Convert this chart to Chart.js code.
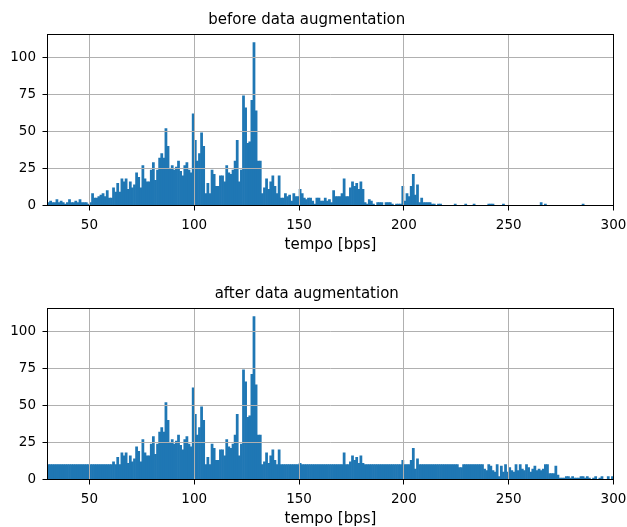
<!DOCTYPE html>
<html>
<head>
<meta charset="utf-8">
<script src="https://cdn.jsdelivr.net/npm/chart.js@4.4.1/dist/chart.umd.min.js"></script>
<style>
  html, body { margin: 0; padding: 0; background: #fff; overflow: hidden; }
  canvas { display: block; }
</style>
</head>
<body>
<canvas id="chartBefore" width="627" height="274"></canvas>
<canvas id="chartAfter" width="627" height="274"></canvas>
<script>
// Bins de 1 bps, el primero empieza en 30
const binStart = 30;

// Cuentas por bin antes de la augmentacion (30..299)
const beforeCounts = [
  2, 3, 2, 2, 4, 2, 3, 2, 1, 2,
  4, 2, 2, 3, 2, 4, 2, 2, 2, 1,
  2, 8, 5, 5, 6, 7, 8, 6, 10, 5,
  5, 12, 9, 15, 9, 18, 16, 18, 11, 16,
  12, 14, 22, 19, 12, 27, 18, 16, 16, 24,
  29, 17, 24, 32, 35, 32, 52, 40, 25, 27,
  24, 26, 30, 23, 20, 27, 29, 24, 22, 62,
  44, 30, 35, 49, 40, 8, 15, 8, 24, 21,
  13, 13, 20, 20, 16, 27, 22, 21, 24, 30,
  44, 16, 24, 74, 66, 42, 43, 71, 110, 64,
  30, 30, 8, 12, 18, 11, 16, 20, 13, 8,
  20, 5, 5, 8, 6, 7, 3, 8, 6, 6,
  11, 8, 5, 4, 5, 5, 3, 1, 5, 5,
  3, 3, 5, 3, 4, 2, 10, 6, 6, 6,
  8, 18, 6, 6, 12, 16, 13, 15, 11, 16,
  11, 2, 1, 4, 3, 1, 0, 2, 2, 2,
  0, 2, 2, 2, 1, 0, 1, 1, 1, 13,
  3, 8, 6, 13, 21, 7, 14, 2, 5, 2,
  2, 2, 2, 1, 1, 0, 1, 1, 0, 0,
  0, 0, 0, 0, 1, 0, 0, 0, 0, 1,
  0, 0, 0, 1, 0, 0, 0, 0, 0, 0,
  1, 1, 1, 0, 0, 0, 0, 1, 0, 0,
  0, 0, 0, 0, 0, 0, 0, 0, 0, 0,
  0, 0, 0, 0, 0, 2, 0, 1, 0, 0,
  0, 0, 0, 0, 0, 0, 0, 0, 0, 0,
  0, 0, 0, 0, 0, 1, 0, 0, 0, 0,
  0, 0, 0, 0, 0, 0, 0, 0, 0, 0
];

// Cuentas por bin despues de la augmentacion (30..299)
const afterCounts = [
  10, 10, 10, 10, 10, 10, 10, 10, 10, 10,
  10, 10, 10, 10, 10, 10, 10, 10, 10, 10,
  10, 10, 10, 10, 10, 10, 10, 10, 10, 10,
  10, 12, 10, 15, 10, 18, 16, 18, 11, 16,
  12, 14, 22, 19, 12, 27, 18, 16, 16, 24,
  29, 17, 24, 32, 35, 32, 52, 40, 25, 27,
  24, 26, 30, 23, 20, 27, 29, 24, 22, 62,
  44, 30, 35, 49, 40, 10, 15, 10, 24, 21,
  13, 13, 20, 20, 16, 27, 22, 21, 24, 30,
  44, 16, 24, 74, 66, 42, 43, 71, 110, 64,
  30, 30, 10, 12, 18, 11, 16, 20, 13, 10,
  20, 10, 10, 10, 10, 10, 10, 10, 10, 10,
  11, 10, 10, 10, 10, 10, 10, 10, 10, 10,
  10, 10, 10, 10, 10, 10, 10, 10, 10, 10,
  10, 18, 10, 10, 12, 16, 13, 15, 11, 16,
  11, 10, 10, 10, 10, 10, 10, 10, 10, 10,
  10, 10, 10, 10, 10, 10, 10, 10, 10, 13,
  10, 10, 10, 13, 21, 7, 14, 10, 10, 10,
  10, 10, 10, 10, 10, 10, 10, 10, 10, 10,
  10, 10, 10, 10, 10, 10, 8, 8, 10, 10,
  10, 10, 10, 10, 10, 10, 10, 10, 7, 6,
  10, 9, 6, 5, 10, 2, 9, 5, 10, 5,
  8, 6, 5, 10, 6, 10, 7, 6, 10, 8,
  5, 7, 9, 6, 7, 6, 7, 10, 10, 4,
  4, 4, 9, 3, 1, 1, 1, 2, 2, 1,
  2, 1, 1, 1, 2, 2, 1, 2, 1, 0,
  1, 2, 0, 1, 2, 0, 0, 2, 0, 2
];

// Ejes y textos
const xTicks = [50, 100, 150, 200, 250, 300];
const yTicks = [0, 25, 50, 75, 100];
const xMin = 30;
const xMax = 300;
const yMax = 115.5;
const xLabel = "tempo [bps]";
const titles = ["before data augmentation", "after data augmentation"];

const barColor = "#1f77b4";
const gridColor = "#b0b0b0";

Chart.defaults.font.family = "'DejaVu Sans', sans-serif";
Chart.defaults.font.size = 13.5;
Chart.defaults.color = "#000";

// Marco negro alrededor del area del grafico (como los spines de matplotlib)
const framePlugin = {
  id: "frame",
  afterDraw(chart) {
    const { ctx, chartArea: a } = chart;
    ctx.save();
    ctx.strokeStyle = "#000";
    ctx.lineWidth = 1;
    ctx.strokeRect(a.left, a.top, a.right - a.left, a.bottom - a.top);
    ctx.restore();
  }
};

// Convierte las cuentas en puntos {x, y} con x en el centro de cada bin
function getDataToChart(counts) {
  const data = counts.map((count, i) => ({ x: binStart + i + 0.5, y: count }));
  return {
    datasets: [{
      data,
      backgroundColor: barColor,
      borderWidth: 0,
      barPercentage: 1,
      categoryPercentage: 1
    }]
  };
}

function renderGraph(canvasId, title, counts) {
  const config = {
    type: "bar",
    data: getDataToChart(counts),
    options: {
      responsive: false,
      animation: false,
      layout: { padding: { left: 0, right: 13.5, top: 0, bottom: 0 } },
      plugins: {
        legend: { display: false },
        tooltip: { enabled: false },
        title: {
          display: true,
          text: title,
          color: "#000",
          font: { size: 15, weight: "normal" },
          padding: { top: 11.2, bottom: 5.3 }
        }
      },
      scales: {
        x: {
          type: "linear",
          min: xMin,
          max: xMax,
          offset: false,
          afterBuildTicks: (scale) => { scale.ticks = xTicks.map((v) => ({ value: v })); },
          // Alto fijo del eje y sin relleno extra por la etiqueta "300"
          afterFit: (scale) => {
            scale.height = 68.5;
            scale.paddingLeft = 0;
            scale.paddingRight = 0;
          },
          ticks: { autoSkip: false, maxRotation: 0, padding: 6.8, color: "#000" },
          grid: { offset: false, color: gridColor, tickColor: "#000", tickLength: 5, z: 1 },
          border: { color: "#000", width: 1, z: 2 },
          title: {
            display: true,
            text: xLabel,
            color: "#000",
            font: { size: 15 },
            padding: { top: 0, bottom: 20 }
          }
        },
        y: {
          min: 0,
          max: yMax,
          afterBuildTicks: (scale) => { scale.ticks = yTicks.map((v) => ({ value: v })); },
          afterFit: (scale) => {
            scale.width = 47.5;
            scale.paddingTop = 0;
            scale.paddingBottom = 0;
          },
          ticks: { padding: 6.5, color: "#000" },
          grid: { color: gridColor, tickColor: "#000", tickLength: 5, z: 1 },
          border: { color: "#000", width: 1, z: 2 }
        }
      }
    },
    plugins: [framePlugin]
  };
  new Chart(document.getElementById(canvasId), config);
}

renderGraph("chartBefore", titles[0], beforeCounts);
renderGraph("chartAfter", titles[1], afterCounts);
</script>
</body>
</html>
